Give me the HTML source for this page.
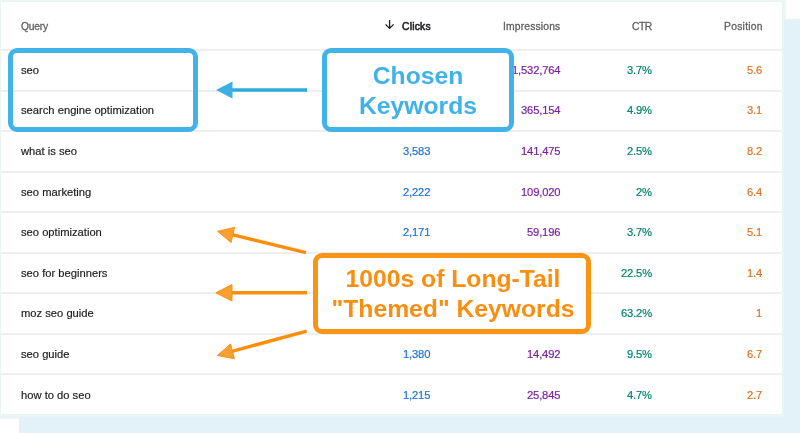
<!DOCTYPE html>
<html><head><meta charset="utf-8">
<style>
html,body{margin:0;padding:0;}
body{width:800px;height:433px;position:relative;overflow:hidden;background:#fff;font-family:"Liberation Sans",sans-serif;}
.panel{position:absolute;left:19px;top:19px;right:0;bottom:0;background:#e3f1f9;}
.shadow{position:absolute;left:0;top:0;width:786px;height:419px;background:#eef6f7;}
.cborder{position:absolute;left:0;top:0;width:784px;height:417px;background:#eaf4f3;}
.card{position:absolute;left:1px;top:2px;width:781px;height:412.2px;background:#fff;}
.line{position:absolute;left:1px;width:781px;height:2px;background:#efefef;}
.t{position:absolute;will-change:transform;-webkit-text-stroke:0.18px currentColor;white-space:nowrap;font-size:11.2px;line-height:20px;height:20px;}
.h{position:absolute;will-change:transform;-webkit-text-stroke:0.3px currentColor;white-space:nowrap;font-size:10.3px;line-height:20px;height:20px;color:#616161;}
.q{left:21px;color:#212121;}
.c{letter-spacing:-0.15px;right:369.3px;text-align:right;color:#1a6fdc;}
.i{letter-spacing:-0.15px;right:239.6px;text-align:right;color:#7a1ea0;}
.r{letter-spacing:-0.15px;right:148px;text-align:right;color:#00806f;}
.p{letter-spacing:-0.15px;right:38px;text-align:right;color:#de7220;}
.box{position:absolute;box-sizing:border-box;border-style:solid;background:#fff;}
.blue{border-color:#42b3e8;border-width:5px;border-radius:9px;}
.orange{border-color:#fa9414;border-width:5px;border-radius:9px;}
.lbl{position:absolute;will-change:transform;left:0;right:0;text-align:center;font-weight:bold;font-size:24.7px;line-height:30px;}
svg{position:absolute;left:0;top:0;}
</style></head>
<body>
<div class="shadow"></div>
<div class="panel"></div>
<div class="cborder"></div>
<div class="card"></div>

<div class="line" style="top:49.2px"></div>
<div class="line" style="top:89.7px"></div>
<div class="line" style="top:130.2px"></div>
<div class="line" style="top:170.7px"></div>
<div class="line" style="top:211.2px"></div>
<div class="line" style="top:251.7px"></div>
<div class="line" style="top:292.2px"></div>
<div class="line" style="top:332.7px"></div>
<div class="line" style="top:373.2px"></div>

<!-- header -->
<div class="h" style="left:20.7px;top:16.5px;letter-spacing:-0.2px;">Query</div>
<svg width="800" height="433" style="pointer-events:none">
  <path d="M389.6 20 V28.3 M385.6 24.4 L389.6 28.4 L393.6 24.4" stroke="#202124" stroke-width="1.3" fill="none"/>
</svg>
<div class="h" style="left:402px;top:16.5px;color:#202124;-webkit-text-stroke:0.55px #202124;letter-spacing:0.22px;">Clicks</div>
<div class="h" style="right:239.8px;top:16.5px;letter-spacing:0.17px;">Impressions</div>
<div class="h" style="right:148.3px;top:16.5px;letter-spacing:-0.5px;">CTR</div>
<div class="h" style="right:37.5px;top:16.5px;letter-spacing:0.28px;">Position</div>

<!-- rows -->
<div class="t q" style="top:59.7px">seo</div>
<div class="t i" style="top:59.7px">1,532,764</div>
<div class="t r" style="top:59.7px">3.7%</div>
<div class="t p" style="top:59.7px">5.6</div>

<div class="t q" style="top:100.3px">search engine optimization</div>
<div class="t i" style="top:100.3px">365,154</div>
<div class="t r" style="top:100.3px">4.9%</div>
<div class="t p" style="top:100.3px">3.1</div>

<div class="t q" style="top:140.9px">what is seo</div>
<div class="t c" style="top:140.9px">3,583</div>
<div class="t i" style="top:140.9px">141,475</div>
<div class="t r" style="top:140.9px">2.5%</div>
<div class="t p" style="top:140.9px">8.2</div>

<div class="t q" style="top:181.5px">seo marketing</div>
<div class="t c" style="top:181.5px">2,222</div>
<div class="t i" style="top:181.5px">109,020</div>
<div class="t r" style="top:181.5px">2%</div>
<div class="t p" style="top:181.5px">6.4</div>

<div class="t q" style="top:222.1px">seo optimization</div>
<div class="t c" style="top:222.1px">2,171</div>
<div class="t i" style="top:222.1px">59,196</div>
<div class="t r" style="top:222.1px">3.7%</div>
<div class="t p" style="top:222.1px">5.1</div>

<div class="t q" style="top:262.7px">seo for beginners</div>
<div class="t r" style="top:262.7px">22.5%</div>
<div class="t p" style="top:262.7px">1.4</div>

<div class="t q" style="top:303.3px">moz seo guide</div>
<div class="t r" style="top:303.3px">63.2%</div>
<div class="t p" style="top:303.3px">1</div>

<div class="t q" style="top:343.9px">seo guide</div>
<div class="t c" style="top:343.9px">1,380</div>
<div class="t i" style="top:343.9px">14,492</div>
<div class="t r" style="top:343.9px">9.5%</div>
<div class="t p" style="top:343.9px">6.7</div>

<div class="t q" style="top:384.5px">how to do seo</div>
<div class="t c" style="top:384.5px">1,215</div>
<div class="t i" style="top:384.5px">25,845</div>
<div class="t r" style="top:384.5px">4.7%</div>
<div class="t p" style="top:384.5px">2.7</div>

<!-- callouts -->
<div class="box blue" style="left:8px;top:48px;width:190px;height:84px;background:transparent;"></div>
<div class="box blue" style="left:322px;top:48px;width:192px;height:84px;">
  <div class="lbl" style="top:8px;color:#40b2e8;">Chosen<br>Keywords</div>
</div>
<div class="box orange" style="left:313px;top:253px;width:278px;height:81px;">
  <div class="lbl" style="top:6px;left:1px;right:-1px;color:#fb8e10;">1000s of Long-Tail<br>"Themed" Keywords</div>
</div>

<svg width="800" height="433">
  <!-- blue arrow -->
  <line x1="307" y1="90" x2="230" y2="90" stroke="#2fa9e1" stroke-width="3.4"/>
  <polygon points="216,90 232.5,81.5 232.5,98.5" fill="#3cb0e5"/>
  <!-- orange arrows -->
  <line x1="306" y1="252.6" x2="232" y2="234.7" stroke="#fc8e0a" stroke-width="3.4"/>
  <polygon points="217.6,231.3 234.6,227.4 231.1,242.5" fill="#f9a030" stroke="#fb8f12" stroke-width="1" stroke-linejoin="round"/>
  <line x1="307" y1="292.8" x2="230" y2="292.8" stroke="#fc8e0a" stroke-width="3.4"/>
  <polygon points="215.8,292.8 232,284.6 232,301" fill="#f9a030" stroke="#fb8f12" stroke-width="1" stroke-linejoin="round"/>
  <line x1="306.7" y1="331.2" x2="232" y2="351.3" stroke="#fc8e0a" stroke-width="3.4"/>
  <polygon points="217.4,355.5 230.5,344 234.4,358.7" fill="#f9a030" stroke="#fb8f12" stroke-width="1" stroke-linejoin="round"/>
</svg>
</body></html>
